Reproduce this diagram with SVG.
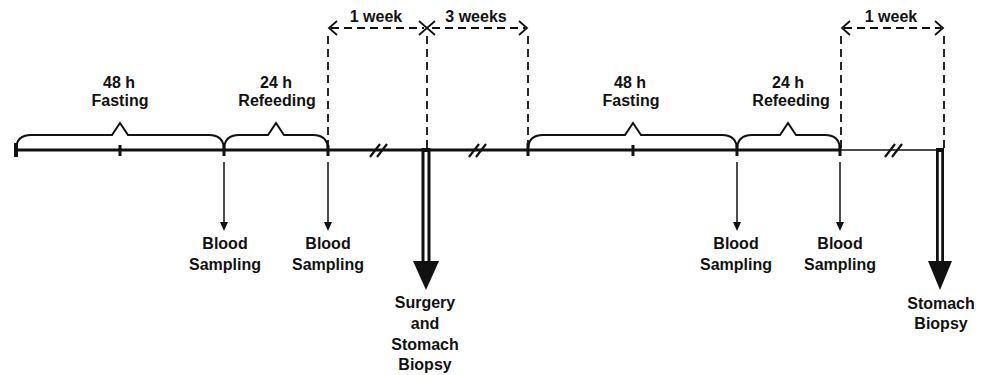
<svg xmlns="http://www.w3.org/2000/svg" width="991" height="375" viewBox="0 0 991 375">
<defs>
<style>
text{font-family:"Liberation Sans",Arial,sans-serif;font-weight:bold;font-size:16px;fill:#111;text-anchor:middle}
.main{stroke:#111;stroke-width:3;fill:none}
.thin{stroke:#111;stroke-width:1.5;fill:none}
.tick{stroke:#111;stroke-width:3}
.brace{stroke:#111;stroke-width:2;fill:none}
.dash{stroke:#111;stroke-width:1.8;stroke-dasharray:8 5;fill:none}
.chev{stroke:#111;stroke-width:1.8;fill:none}
.brk{stroke:#111;stroke-width:2.2}
.arr{stroke:#111;stroke-width:1.5}
.head{fill:#111}
</style>
</defs>
<g id="connectors">
<line class="main" x1="15" y1="150" x2="840" y2="150"/>
<line class="thin" x1="840" y1="150" x2="938" y2="150"/>
<g id="ticks">
<line class="tick" x1="16" y1="143" x2="16" y2="157" style="stroke-width:4"/>
<line class="tick" x1="120" y1="145" x2="120" y2="156"/>
<line class="tick" x1="224" y1="145" x2="224" y2="156"/>
<line class="tick" x1="328" y1="145" x2="328" y2="156"/>
<line class="tick" x1="528" y1="143" x2="528" y2="156"/>
<line class="tick" x1="633" y1="145" x2="633" y2="156"/>
<line class="tick" x1="737" y1="145" x2="737" y2="156"/>
<line class="tick" x1="840" y1="145" x2="840" y2="156"/>
</g>
<g id="breaks">
<line class="brk" x1="370" y1="157" x2="380" y2="144"/>
<line class="brk" x1="377" y1="157" x2="387" y2="144"/>
<line class="brk" x1="469" y1="157" x2="479" y2="144"/>
<line class="brk" x1="476" y1="157" x2="486" y2="144"/>
<line class="brk" x1="885" y1="157" x2="895" y2="144"/>
<line class="brk" x1="892" y1="157" x2="902" y2="144"/>
</g>
<g id="braces">
<path class="brace" d="M16,150 Q16,135 31,135 L112,135 L120,123 L128,135 L209,135 Q224,135 224,150"/>
<path class="brace" d="M224,150 Q224,135 239,135 L268,135 L276,123 L284,135 L313,135 Q328,135 328,150"/>
<path class="brace" d="M528,150 Q528,135 543,135 L625,135 L633,123 L641,135 L722,135 Q737,135 737,150"/>
<path class="brace" d="M737,150 Q737,135 752,135 L780,135 L788,123 L796,135 L825,135 Q840,135 840,150"/>
</g>
<g id="dashed">
<line class="dash" x1="328" y1="36" x2="328" y2="148"/>
<line class="dash" x1="427" y1="36" x2="427" y2="148"/>
<line class="dash" x1="528" y1="36" x2="528" y2="148"/>
<line class="dash" x1="841" y1="36" x2="841" y2="148"/>
<line class="dash" x1="944" y1="36" x2="944" y2="148"/>
<line class="dash" x1="331" y1="28" x2="424" y2="28"/>
<line class="dash" x1="432" y1="28" x2="525" y2="28"/>
<line class="dash" x1="844" y1="28" x2="941" y2="28"/>
<path class="chev" d="M337,21 L329,28 L337,35"/>
<path class="chev" d="M419,21 L427,28 L419,35"/>
<path class="chev" d="M435,21 L427,28 L435,35"/>
<path class="chev" d="M519,21 L527,28 L519,35"/>
<path class="chev" d="M850,21 L842,28 L850,35"/>
<path class="chev" d="M935,21 L943,28 L935,35"/>
</g>
<g id="blood-arrows">
<line class="arr" x1="224" y1="162" x2="224" y2="224"/>
<path class="head" d="M220,222 L228,222 L224,231 Z"/>
<line class="arr" x1="328" y1="162" x2="328" y2="224"/>
<path class="head" d="M324,222 L332,222 L328,231 Z"/>
<line class="arr" x1="737" y1="162" x2="737" y2="224"/>
<path class="head" d="M733,222 L741,222 L737,231 Z"/>
<line class="arr" x1="840" y1="162" x2="840" y2="224"/>
<path class="head" d="M836,222 L844,222 L840,231 Z"/>
</g>
<g id="biopsy-arrows">
<line x1="426" y1="148" x2="426" y2="266" stroke="#111" stroke-width="9"/>
<line x1="426" y1="152" x2="426" y2="266" stroke="#fff" stroke-width="3"/>
<path class="head" d="M413,261 L439,261 L426,290 Z"/>
<line x1="940" y1="148" x2="940" y2="266" stroke="#111" stroke-width="8"/>
<line x1="940" y1="152" x2="940" y2="266" stroke="#fff" stroke-width="2.5"/>
<path class="head" d="M928,261 L952,261 L940,290 Z"/>
</g>
</g>
<g id="fasting-1"><text x="119" y="88">48 h</text><text x="120" y="106">Fasting</text></g>
<g id="refeeding-1"><text x="276" y="88">24 h</text><text x="277" y="106">Refeeding</text></g>
<g id="fasting-2"><text x="630" y="88">48 h</text><text x="631" y="106">Fasting</text></g>
<g id="refeeding-2"><text x="788" y="88">24 h</text><text x="791" y="106">Refeeding</text></g>
<g id="week-1"><text x="376" y="22">1 week</text></g>
<g id="weeks-3"><text x="476" y="22">3 weeks</text></g>
<g id="week-1b"><text x="891" y="22">1 week</text></g>
<g id="blood-1"><text x="225" y="249">Blood</text><text x="225" y="270">Sampling</text></g>
<g id="blood-2"><text x="328" y="249">Blood</text><text x="328" y="270">Sampling</text></g>
<g id="blood-3"><text x="736" y="249">Blood</text><text x="736" y="270">Sampling</text></g>
<g id="blood-4"><text x="840" y="249">Blood</text><text x="840" y="270">Sampling</text></g>
<g id="surgery"><text x="425" y="308">Surgery</text><text x="425" y="329">and</text><text x="425" y="350">Stomach</text><text x="425" y="370">Biopsy</text></g>
<g id="stomach-biopsy"><text x="941" y="309">Stomach</text><text x="941" y="329">Biopsy</text></g>
</svg>
